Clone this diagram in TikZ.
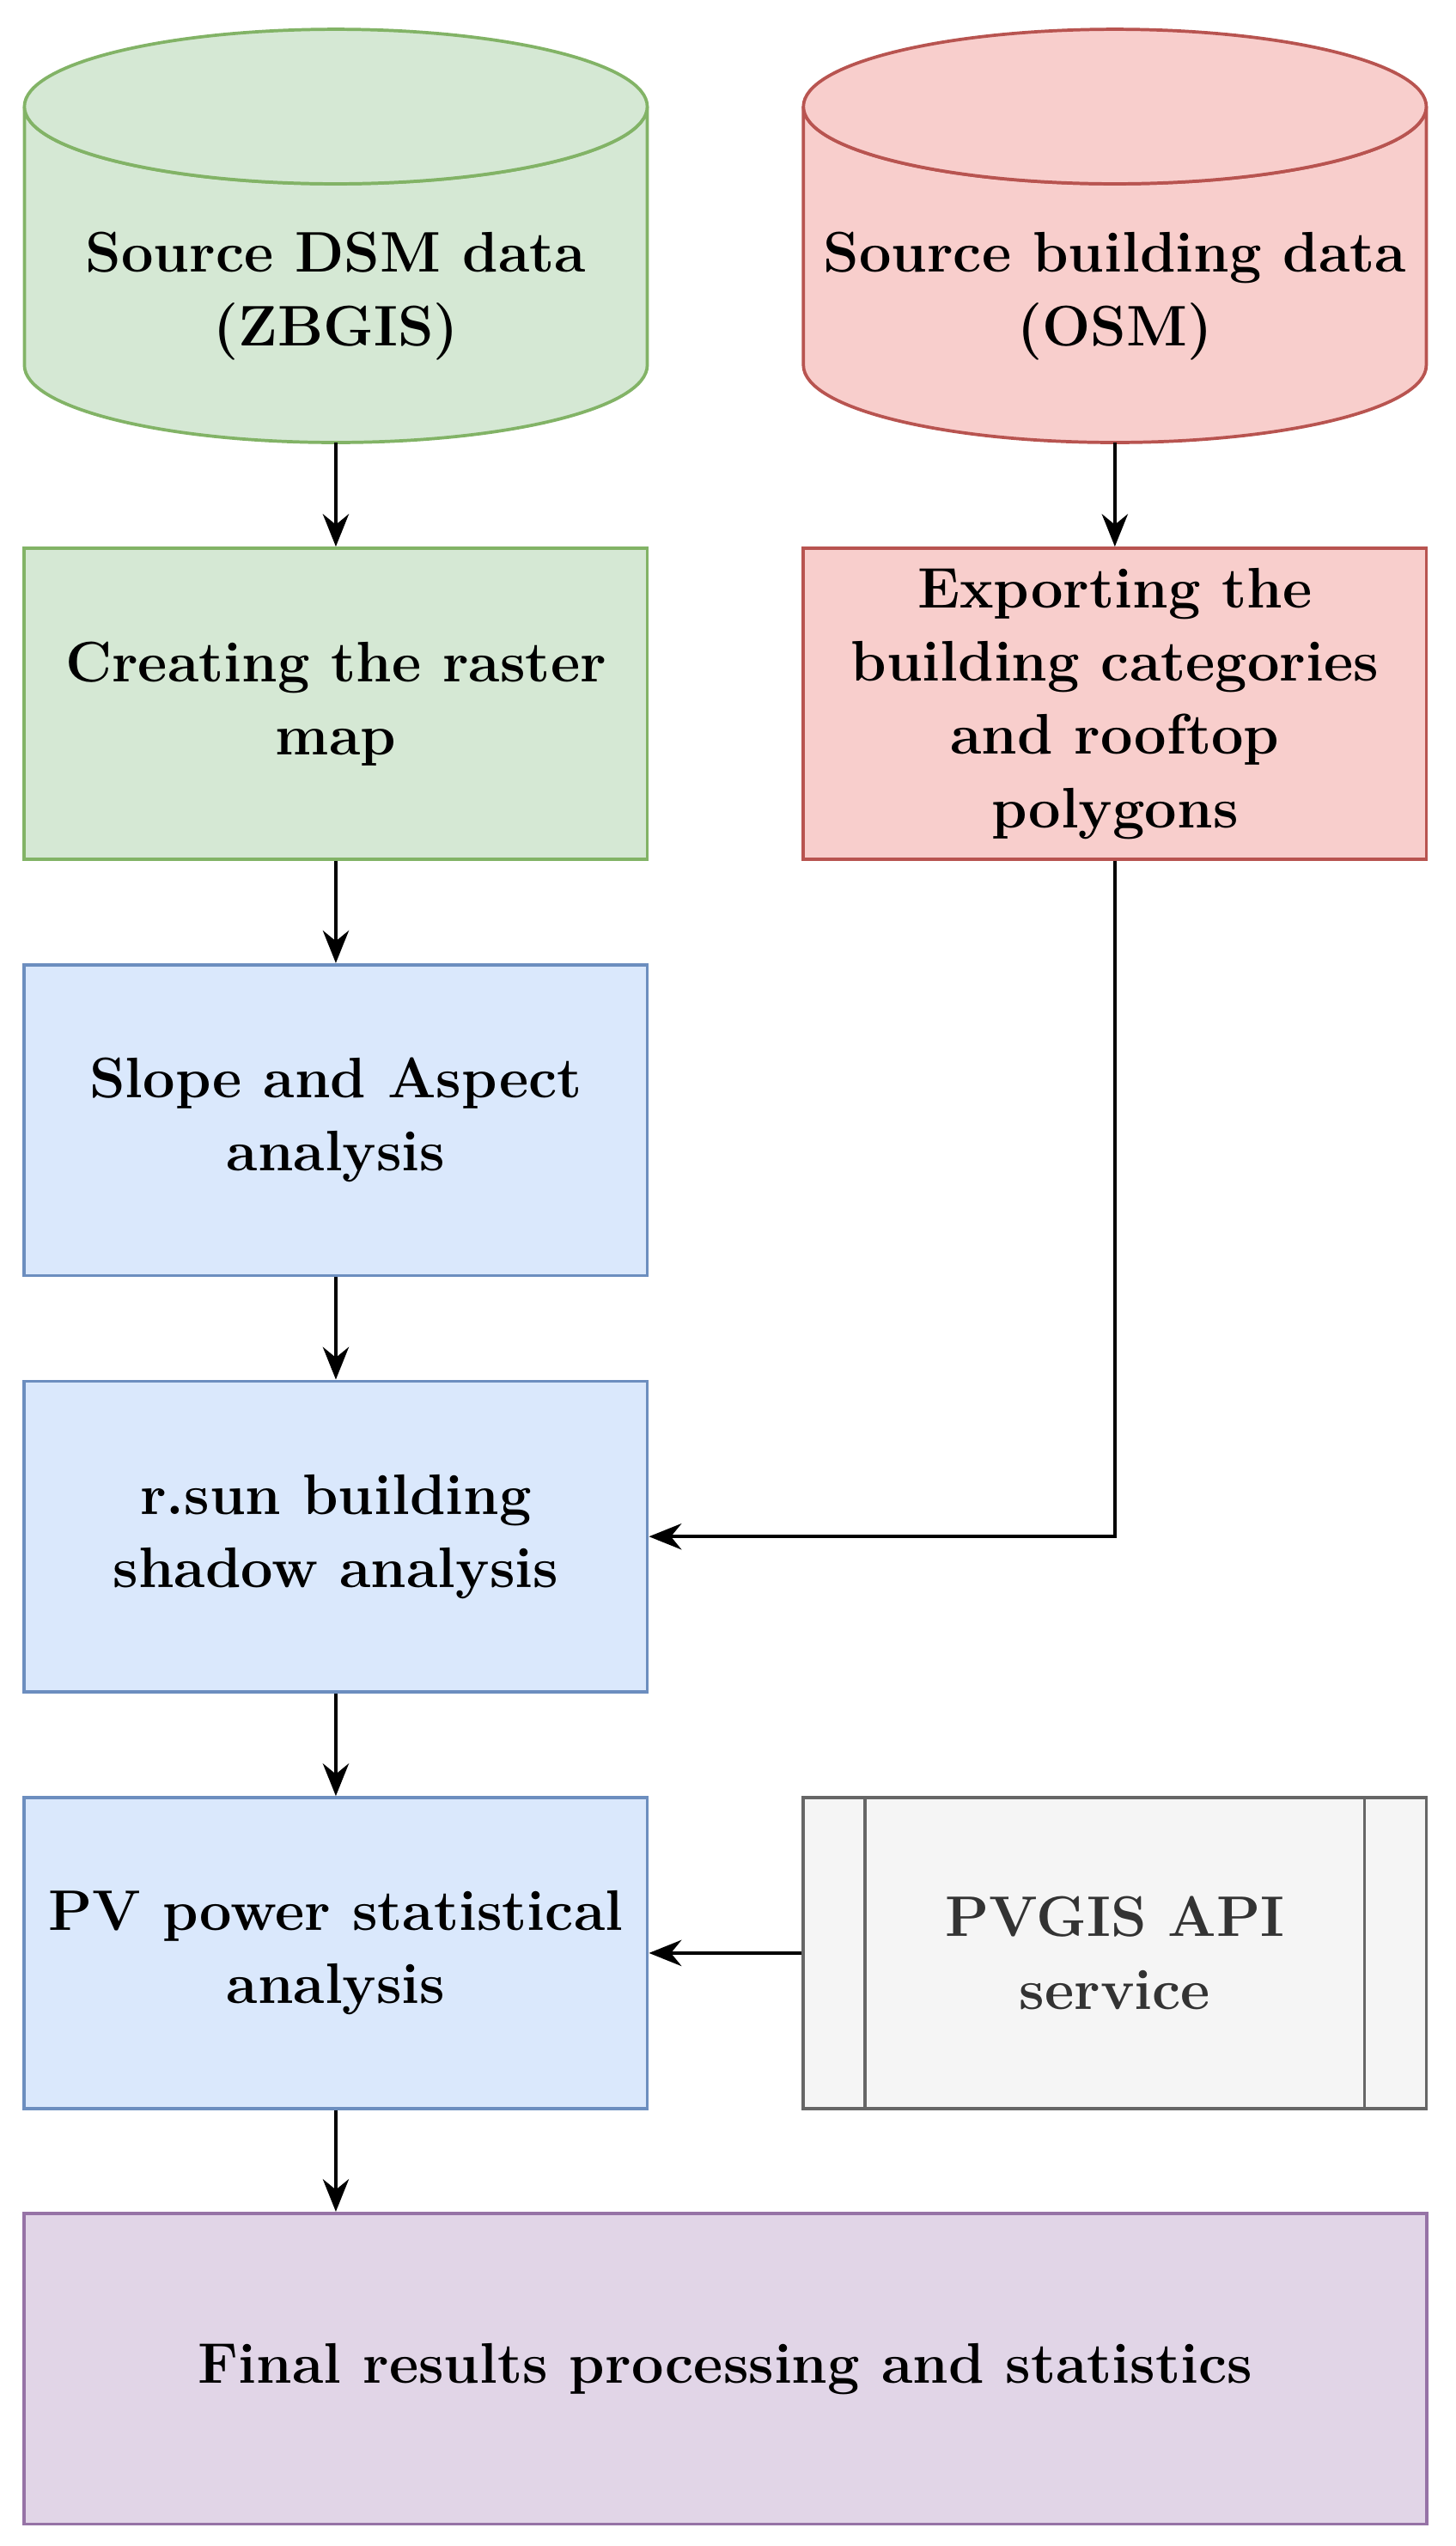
\documentclass[tikz,border=0pt]{standalone}
\usetikzlibrary{arrows.meta,positioning}
\definecolor{gfill}{HTML}{D5E8D4}\definecolor{gdraw}{HTML}{82B366}
\definecolor{rfill}{HTML}{F8CECC}\definecolor{rdraw}{HTML}{B85450}
\definecolor{bfill}{HTML}{DAE8FC}\definecolor{bdraw}{HTML}{6C8EBF}
\definecolor{kfill}{HTML}{F5F5F5}\definecolor{kdraw}{HTML}{666666}
\definecolor{pfill}{HTML}{E1D5E7}\definecolor{pdraw}{HTML}{9673A6}
\definecolor{ktext}{HTML}{333333}
\begin{document}
\begin{tikzpicture}[x=0.025cm,y=-0.025cm,
box/.style={rectangle, draw=#1draw, fill=#1fill, line width=1.4pt, minimum width=9.575cm, minimum height=4.775cm, align=center, font=\fontsize{25}{32}\selectfont\bfseries},
txt/.style={align=center, font=\fontsize{25}{32}\selectfont\bfseries},
arr/.style={-{Stealth[length=5mm,width=4mm]}, line width=1.4pt},
]
\useasboundingbox (0,0) rectangle (895,1565);
% cylinders
\foreach \x/\c in {15/g,494/r}{
  \draw[draw=\c draw, fill=\c fill, line width=1.4pt]
    (\x,65.5) arc[start angle=180, end angle=360, x radius=191.5, y radius=-47.5]
    -- (\x+383,224.5) arc[start angle=0, end angle=-180, x radius=191.5, y radius=-47.5] -- cycle;
  \draw[draw=\c draw, fill=\c fill, line width=1.4pt] (\x+191.5,65.5) ellipse[x radius=191.5, y radius=47.5];
}
\node[txt] (dsm) at (206.5,182) {Source DSM data\\(ZBGIS)};
\node[txt] (osm) at (685.5,182) {Source building data\\(OSM)};
\coordinate (dsmb) at (206.5,272);
\coordinate (osmb) at (685.5,272);
% boxes
\node[box=g] (raster) at (206.5,432.5) {Creating the raster\\map};
\node[box=r] (export) at (685.5,432.5) {Exporting the\\building categories\\and rooftop\\polygons};
\node[box=b] (slope) at (206.5,688.5) {Slope and Aspect\\analysis};
\node[box=b] (rsun) at (206.5,944.5) {r.sun building\\shadow analysis};
\node[box=b] (pv) at (206.5,1200.5) {PV power statistical\\analysis};
\node[box=k, text=ktext] (api) at (685.5,1200.5) {\fontsize{25}{32}\selectfont PVGIS API\\\fontsize{25}{32}\selectfont service};
\draw[kdraw, line width=1.4pt] (532,1105) -- (532,1296) (839,1105) -- (839,1296);
\node[box=p, minimum width=21.55cm] (final) at (446,1456) {Final results processing and statistics};
% arrows
\draw[arr] (dsmb) -- (raster);
\draw[arr] (osmb) -- (export);
\draw[arr] (raster) -- (slope);
\draw[arr] (slope) -- (rsun);
\draw[arr] (rsun) -- (pv);
\draw[arr] (pv.south) -- (pv.south |- final.north);
\draw[arr] (export.south) |- (rsun.east);
\draw[arr] (api) -- (pv);
\end{tikzpicture}
\end{document}
